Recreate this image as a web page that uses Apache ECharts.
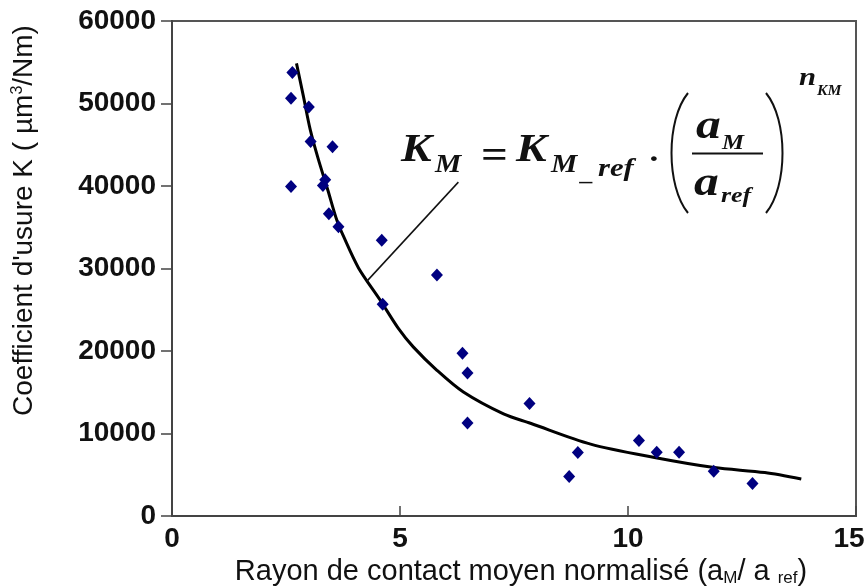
<!DOCTYPE html>
<html><head><meta charset="utf-8">
<script src="https://cdn.jsdelivr.net/npm/echarts@6/dist/echarts.min.js"></script>
<style>html,body{margin:0;padding:0;background:#fff}#c{width:865px;height:586px}</style>
</head><body><div id="c"></div>
<script>
var xTicks = [0, 5, 10, 15];
var yTicks = [0, 10000, 20000, 30000, 40000, 50000, 60000];
var pointX = [2.64,2.61,3.00,3.04,3.52,2.61,3.36,3.31,3.44,3.65,4.60,4.62,5.81,6.37,6.48,6.48,7.84,8.90,8.71,10.24,10.63,11.12,11.88,12.73];
var pointY = [53770,50640,49590,45380,44770,39950,40760,40070,36630,35050,33420,25670,29200,19740,17340,11270,13640,7700,4780,9160,7740,7740,5430,3930];
var curveX = [2.73,2.88,3.03,3.21,3.42,3.61,3.76,4.09,4.56,4.96,5.29,5.81,6.39,7.27,7.86,9.18,10.58,11.89,13.00,13.80];
var curveY = [54860,50920,46870,43230,39460,35940,33910,30070,26210,22770,20500,17660,15020,12370,11240,8710,7090,5870,5260,4480];
var leaderX = [4.27, 6.28];
var leaderY = [28440, 40470];

function zip(a, b) { return a.map(function (v, i) { return [v, b[i]]; }); }

var chart = echarts.init(document.getElementById('c'), null, {renderer: 'canvas'});
var serif = 'Liberation Serif';
var SX = 1.18;
function t(x, y, s, size, opts) {
  opts = opts || {};
  return {type: 'text', x: x, y: y, z: 100, scaleX: opts.sx || SX, style: {
    text: s, font: (opts.noItalic ? '' : 'italic ') + 'bold ' + size + 'px "' + serif + '"',
    fill: '#111', align: 'left', verticalAlign: 'middle'}};
}
var graphics = [
  t(401, 151, 'K', 39),
  t(435, 166, 'M', 25),
  t(481, 158, '=', 40, {noItalic: true}),
  t(516, 151, 'K', 39),
  t(551, 166, 'M', 25),
  t(581, 174, '_', 22),
  t(598, 169, 'ref', 26),
  t(648, 160, '\u00B7', 30, {noItalic: true}),
  t(696, 127, 'a', 42),
  t(722, 144, 'M', 21),
  t(694, 184, 'a', 42),
  t(721, 196, 'ref', 22),
  t(799, 78, 'n', 26),
  t(817, 91, 'KM', 15, {sx: 1.05}),
  {type: 'line', z: 100, shape: {x1: 692, y1: 153.5, x2: 763, y2: 153.5}, style: {stroke: '#111', lineWidth: 2}},
  {type: 'bezierCurve', z: 100, shape: {x1: 688, y1: 93, cpx1: 666, cpy1: 120, cpx2: 666, cpy2: 186, x2: 688, y2: 213}, style: {stroke: '#111', lineWidth: 2, fill: null}},
  {type: 'bezierCurve', z: 100, shape: {x1: 766, y1: 93, cpx1: 788, cpy1: 120, cpx2: 788, cpy2: 186, x2: 766, y2: 213}, style: {stroke: '#111', lineWidth: 2, fill: null}}
];

var labelStyle = {fontFamily: 'Liberation Sans', fontWeight: 'bold', fontSize: 28, color: '#111'};
var xMax = xTicks[xTicks.length - 1];

chart.setOption({
  animation: false,
  backgroundColor: '#fff',
  grid: {left: 172, right: 9, top: 21, bottom: 70, show: true, borderColor: '#555', borderWidth: 2,
    backgroundColor: 'transparent', containLabel: false, outerBoundsMode: 'none'},
  xAxis: {
    type: 'value', min: xTicks[0], max: xMax, interval: 5,
    axisLine: {show: true, onZero: false, lineStyle: {color: '#444', width: 2}},
    axisTick: {show: true, inside: true, length: 10, lineStyle: {color: '#444', width: 1.5}},
    splitLine: {show: false},
    axisLabel: Object.assign({margin: 9, formatter: function (v) { return v === xMax ? '{last|' + v + '}' : String(v); },
      rich: {last: {fontFamily: 'Liberation Sans', fontWeight: 'bold', fontSize: 28, color: '#111', padding: [0, 14, 0, 0]}}}, labelStyle),
    name: 'Rayon de contact moyen normalisé (a{sub|M}/ a {sub|ref})',
    nameLocation: 'middle', nameGap: 40,
    nameTextStyle: {fontFamily: 'Liberation Sans', fontSize: 29, color: '#111', verticalAlign: 'top',
      padding: [0, 0, 0, 14],
      rich: {sub: {fontFamily: 'Liberation Sans', fontSize: 17, color: '#111', verticalAlign: 'bottom', padding: [10, 0, 0, 0]}}}
  },
  yAxis: {
    type: 'value', min: yTicks[0], max: yTicks[yTicks.length - 1], interval: 10000,
    axisLine: {show: true, onZero: false, lineStyle: {color: '#444', width: 2}},
    axisTick: {show: true, inside: false, length: 11, lineStyle: {color: '#444', width: 1.5}},
    splitLine: {show: false},
    axisLabel: Object.assign({margin: 16, formatter: function (v) { return String(v); }}, labelStyle),
    name: 'Coefficient d\'usure K ( µm{sup|3}/Nm)',
    nameLocation: 'middle', nameGap: 134, nameRotate: 90,
    nameTextStyle: {fontFamily: 'Liberation Sans', fontSize: 28, color: '#111',
      padding: [0, 0, 0, 96],
      rich: {sup: {fontFamily: 'Liberation Sans', fontSize: 16, color: '#111', verticalAlign: 'top', padding: [0, 0, 10, 0]}}}
  },
  graphic: graphics,
  series: [
    {type: 'line', data: zip(curveX, curveY), smooth: 0.3, symbol: 'none', lineStyle: {color: '#000', width: 3}, z: 3},
    {type: 'line', data: zip(leaderX, leaderY), symbol: 'none', lineStyle: {color: '#111', width: 1.5}, z: 3},
    {type: 'scatter', data: zip(pointX, pointY), symbol: 'diamond', symbolSize: [12, 13], itemStyle: {color: '#000080', opacity: 1}, z: 4}
  ]
});
</script></body></html>
